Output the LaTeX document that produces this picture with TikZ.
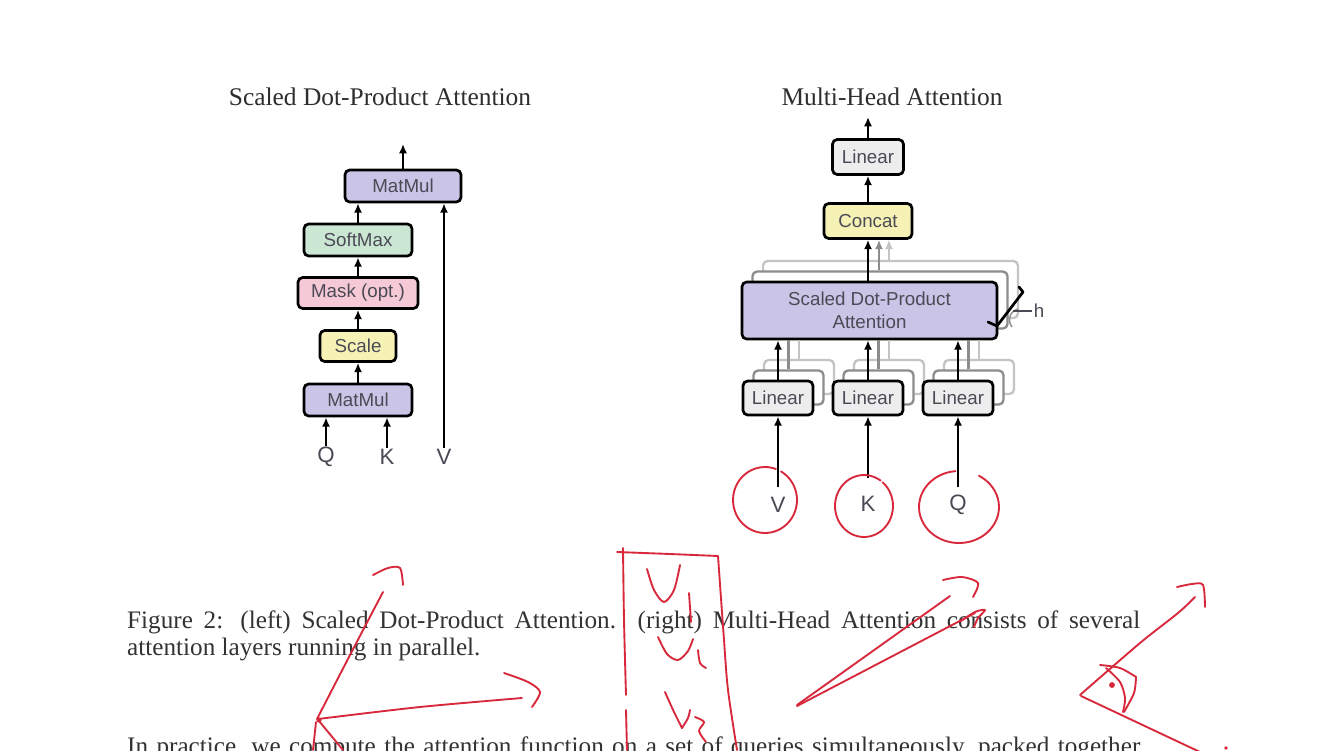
\documentclass[tikz,border=0pt]{standalone}
\usepackage{fontspec}
\setmainfont{Liberation Serif}
\setsansfont{Liberation Sans}
\usetikzlibrary{arrows.meta}
\definecolor{lav}{HTML}{CAC4E7}
\definecolor{smgreen}{HTML}{CBE6D3}
\definecolor{maskpink}{HTML}{F5C9D6}
\definecolor{scaleyel}{HTML}{F6F2B5}
\definecolor{lingray}{HTML}{EDEDED}
\definecolor{labgray}{HTML}{4A4A55}
\definecolor{titlegray}{HTML}{2E2E2E}
\definecolor{capgray}{HTML}{333333}
\definecolor{shadowA}{HTML}{8C8C8C}
\definecolor{shadowB}{HTML}{C4C4C4}
\definecolor{inkred}{HTML}{D8283C}
\begin{document}
\begin{tikzpicture}[x=0.03cm,y=-0.03cm,
  box/.style={draw=black, line width=2.3pt, rounded corners=4pt, inner sep=0pt,
    align=center, text=labgray, font=\sffamily\fontsize{16}{19.5}\selectfont},
  shbox/.style={draw=#1, line width=2pt, rounded corners=4pt, inner sep=0pt, fill=white},
  arr/.style={-{Latex[length=8pt,width=7pt]}, line width=2pt},
  gline/.style={line width=2pt, draw=#1},
  lab/.style={inner sep=1pt, text=labgray, font=\sffamily\fontsize{19}{22}\selectfont},
  ttl/.style={inner sep=0pt, anchor=base, text=titlegray, font=\fontsize{21.7}{26}\selectfont},
  captxt/.style={inner sep=0pt, anchor=base west, text=capgray, font=\fontsize{21.5}{25}\selectfont},
  ink/.style={draw=inkred, line width=1.6pt, line cap=round, line join=round}
]
\useasboundingbox (0,0) rectangle (1334,750);
\fill[white] (0,0) rectangle (1334,750);

% ---------------- titles ----------------
\node[ttl] (t1) at (380,105) {Scaled Dot-Product Attention};
\node[ttl] (t2) at (892,105) {Multi-Head Attention};

% ---------------- left diagram ----------------
\node[box, fill=lav, minimum width=3.48cm, minimum height=0.96cm] (mm2) at (403,186) {MatMul};
\node[box, fill=smgreen, minimum width=3.24cm, minimum height=0.96cm] (sm) at (358,240) {SoftMax};
\node[box, fill=maskpink, minimum width=3.6cm, minimum height=0.93cm] (mask) at (358,293) {Mask (opt.)};
\node[box, fill=scaleyel, minimum width=2.28cm, minimum height=0.93cm] (scale) at (358,346) {Scale};
\node[box, fill=lav, minimum width=3.24cm, minimum height=0.96cm] (mm1) at (358,400) {MatMul};
\node[lab] (lq) at (326,457) {Q};
\node[lab] (lk) at (387,457) {K};
\node[lab] (lv) at (444,457) {V};
\coordinate (outL) at (403,144);

\draw[arr] (mm1) -- (scale);
\draw[arr] (scale) -- (mask);
\draw[arr] (mask) -- (sm);
\draw[arr] (sm.north) -- (sm.north |- mm2.south);
\draw[arr] (mm2) -- (outL);
\draw[arr] (lq.north) -- (lq.north |- mm1.south);
\draw[arr] (lk.north) -- (lk.north |- mm1.south);
\draw[arr] (lv.north) -- (lv.north |- mm2.south);

% ---------------- right diagram ----------------
\node[box, fill=lingray, minimum width=2.13cm, minimum height=1.05cm] (lintop) at (868,157) {Linear};
\node[box, fill=scaleyel, minimum width=2.64cm, minimum height=1.05cm] (concat) at (868,221) {Concat};
\coordinate (outR) at (868,117);

% attention stack
\node[shbox=shadowB, minimum width=7.65cm, minimum height=1.71cm] (sdpa3) at (890.5,289.5) {};
\node[shbox=shadowA, minimum width=7.65cm, minimum height=1.71cm] (sdpa2) at (880,300) {};
\node[box, fill=lav, minimum width=7.65cm, minimum height=1.71cm] (sdpa) at (869.5,310.5) {Scaled Dot-Product\\Attention};

% linear stacks
\foreach \n/\x in {v/778,k/868,q/958}{
  \node[shbox=shadowB, minimum width=2.1cm, minimum height=1.02cm] (lin\n3) at (\x+21,377) {};
  \node[shbox=shadowA, minimum width=2.1cm, minimum height=1.02cm] (lin\n2) at (\x+10.5,387.5) {};
  \node[box, fill=lingray, minimum width=2.1cm, minimum height=1.02cm] (lin\n) at (\x,398) {Linear};
}

% input labels
\node[lab] (iv) at (778,505) {V};
\node[lab] (ik) at (868,504) {K};
\node[lab] (iq) at (958,505) {Q};
\coordinate (sv) at (778,487);
\coordinate (sk) at (868,478);
\coordinate (sq) at (958,487);

\draw[arr] (sv) -- (linv.south);
\draw[arr] (sk) -- (link.south);
\draw[arr] (sq) -- (linq.south);

% linear -> attention
\foreach \n in {v,k,q}{
  \draw[gline=shadowB] (lin\n3.north) -- (lin\n3.north |- sdpa.south);
  \draw[gline=shadowA] (lin\n2.north) -- (lin\n2.north |- sdpa.south);
  \draw[arr] (lin\n.north) -- (lin\n.north |- sdpa.south);
}

% attention -> concat
\draw[arr, draw=shadowB] (sdpa3.north -| 889,0) -- (889,0 |- concat.south);
\draw[arr, draw=shadowA] (sdpa2.north -| 879,0) -- (879,0 |- concat.south);
\draw[arr] (sdpa.north -| concat.south) -- (concat.south);
\draw[arr] (concat) -- (lintop);
\draw[arr] (lintop) -- (outR);

% h marker
\coordinate (hb1) at (1019,287);
\coordinate (hb2) at (1023,292);
\coordinate (hb3) at (997,326);
\coordinate (hb4) at (988,322);
\draw[line width=2.3pt, line join=round, line cap=round] (hb1) -- (hb2) -- (hb3) -- (hb4);
\draw[line width=1.2pt, draw=shadowA] (1018,309) .. controls (1008,312) and (1008,322) .. (1012,327);
\node[lab, font=\sffamily\fontsize{16}{18}\selectfont] (hl) at (1039,311) {h};
\coordinate (hline) at (1013,311);
\draw[line width=1.6pt, draw=labgray] (hline) -- (hl.west);

% ---------------- caption ----------------
\node[captxt] (cap1) at (127,628) {\makebox[30.39cm][s]{Figure 2: (left) Scaled Dot-Product Attention. (right) Multi-Head Attention consists of several}};
\node[captxt] (cap2) at (127,655) {attention layers running in parallel.};
\node[captxt] (cap3) at (127,754) {\makebox[30.39cm][s]{In practice, we compute the attention function on a set of queries simultaneously, packed together}};

% ---------------- red ink ----------------
% circles around inputs
\draw[ink] plot[domain=-60:290, samples=50, smooth] ({765+32*cos(\x)},{500+33*sin(\x)});
\draw[ink] plot[domain=-50:305, samples=50, smooth] ({864+29*cos(\x)},{506+31*sin(\x)});
\draw[ink] plot[domain=-60:265, samples=50, smooth] ({959+40*cos(\x)},{507+36*sin(\x)});

% left arrows
\draw[ink] plot[smooth] coordinates {(317,719) (350,655) (383,592)};
\draw[ink] plot[smooth] coordinates {(373,575) (388,568) (400,568) (403,585)};
\draw[ink] plot[smooth] coordinates {(318,719) (420,707) (522,698)};
\draw[ink] plot[smooth] coordinates {(504,673) (528,682) (540,692) (532,707)};
\draw[ink] (319,721) -- (343,750);
\draw[ink] (316,722) -- (313,750);
\fill[inkred] (319,720) circle (2.2pt);

% box with V's
\draw[ink] plot[smooth] coordinates {(623,548) (624,620) (626,695)};
\draw[ink] (626,710) -- (627,750);
\draw[ink] plot[smooth] coordinates {(617,552) (670,554) (718,556)};
\draw[ink] plot[smooth] coordinates {(718,556) (724,640) (728,690) (737,750)};
\draw[ink] plot[smooth] coordinates {(647,569) (654,590) (664,602) (674,590) (680,565)};
\draw[ink] (689,593) -- (691,622);
\draw[ink] plot[smooth] coordinates {(658,637) (667,654) (678,660) (688,651) (693,639)};
\draw[ink] plot[smooth] coordinates {(698,650) (700,663) (706,668)};
\draw[ink] plot[smooth] coordinates {(665,692) (674,712) (682,728)};
\draw[ink] plot[smooth] coordinates {(682,728) (688,718) (690,710)};
\draw[ink] plot[smooth] coordinates {(695,717) (704,722) (699,731) (706,742)};

% double arrow
\draw[ink] (797,705) -- (950,596);
\draw[ink] (797,706) -- (975,613);
\draw[ink] plot[smooth] coordinates {(943,580) (962,577) (978,583) (973,597)};
\draw[ink] plot[smooth] coordinates {(961,621) (975,612) (985,610) (978,618) (974,627)};

% eye shape
\draw[ink] plot[smooth] coordinates {(1080,695) (1140,643) (1178,613) (1195,597)};
\draw[ink] plot[smooth] coordinates {(1177,587) (1192,584) (1203,585) (1205,607)};
\draw[ink] (1081,696) -- (1200,752);
\draw[ink] plot[smooth] coordinates {(1100,665) (1120,668) (1136,677)};
\draw[ink] plot[smooth] coordinates {(1136,677) (1134,693) (1124,712)};
\draw[ink] plot[smooth] coordinates {(1106,668) (1120,682) (1125,698) (1123,712)};
\fill[inkred] (1112,685) circle (2.5pt);
\fill[inkred] (1226,748) circle (1.6pt);
\end{tikzpicture}
\end{document}
